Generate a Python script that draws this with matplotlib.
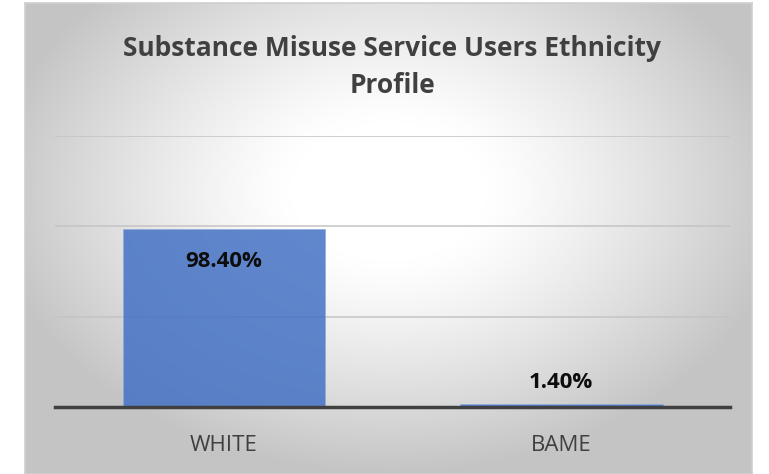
import numpy as np
import matplotlib.pyplot as plt

# chart data
categories = ["WHITE", "BAME"]
shares = [98.4, 1.4]          # percent
value_labels = ["98.40%", "1.40%"]
title = "Substance Misuse Service Users Ethnicity\nProfile"

W, H = 769, 474
fig = plt.figure(figsize=(W / 100, H / 100), dpi=100)
fig.patch.set_facecolor("white")

# panel with radial grey gradient
px0, px1, py0, py1 = 25, 752, 3, 474
bg = fig.add_axes([px0 / W, 1 - py1 / H, (px1 - px0) / W, (py1 - py0) / H])
nx, ny = 300, 200
xx, yy = np.meshgrid(np.linspace(-1, 1, nx), np.linspace(-1, 1, ny))
r = np.sqrt((xx / 1.1) ** 2 + ((yy + 0.2) / 1.2) ** 2)
t = np.clip((r - 0.25) / 0.75, 0, 1)
shade = 1.0 - 0.23 * t ** 1.2
img = np.dstack([shade, shade, shade])
bg.imshow(img, extent=[0, 1, 0, 1], aspect="auto", origin="upper")
bg.set_xlim(0, 1)
bg.set_ylim(0, 1)
bg.set_xticks([])
bg.set_yticks([])
for s in bg.spines.values():
    s.set_color("#d0d0d0")
    s.set_linewidth(1.2)

# plot area
ax0, ax1, ay0, ay1 = 55, 730, 136, 407
ax = fig.add_axes([ax0 / W, 1 - ay1 / H, (ax1 - ax0) / W, (ay1 - ay0) / H])
ax.patch.set_alpha(0)
x = np.arange(len(categories))
ax.bar(x, shares, width=0.6, color="#4472c4", alpha=0.85, zorder=2,
       edgecolor="#8faadc", linewidth=0.6)
ax.set_xlim(-0.5, len(categories) - 0.5)
ax.set_ylim(0, 150)
ax.set_yticks([50, 100, 150])
ax.yaxis.grid(True, color="#c4c4c4", linewidth=1.1, zorder=1)
ax.set_axisbelow(True)
ax.tick_params(left=False, labelleft=False, bottom=False)
for s in ["top", "right", "left"]:
    ax.spines[s].set_visible(False)
ax.spines["bottom"].set_color("#404040")
ax.spines["bottom"].set_linewidth(2.5)
ax.spines["bottom"].set_zorder(3)
ax.set_xticks(x)
ax.set_xticklabels(categories, fontsize=16, color="#404040", family="Open Sans")
ax.tick_params(axis="x", pad=17)

# value labels
ax.text(x[0], shares[0] - 18, value_labels[0], ha="center", va="center",
        fontsize=16, fontweight="bold", color="#0d0d0d", family="Open Sans")
ax.text(x[1], shares[1] + 12, value_labels[1], ha="center", va="center",
        fontsize=16, fontweight="bold", color="#0d0d0d", family="Open Sans")

fig.text(392 / W, 1 - 67 / H, title, ha="center", va="center", fontsize=19,
         fontweight="bold", color="#404040", family="Open Sans", linespacing=1.45)

fig.savefig("out.png", dpi=100)
